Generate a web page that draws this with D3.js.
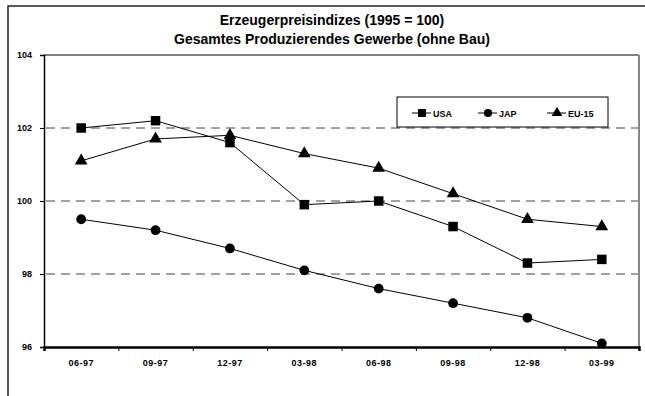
<!DOCTYPE html>
<html>
<head>
<meta charset="utf-8">
<title>Erzeugerpreisindizes</title>
<script src="https://d3js.org/d3.v7.min.js"></script>
<style>
  body { margin: 0; background: #fff; }
  text { font-family: "Liberation Sans", Arial, sans-serif; font-weight: bold; fill: #000; }
</style>
</head>
<body>
<div id="chart"></div>
<script>
// data
var periods = ["06-97", "09-97", "12-97", "03-98", "06-98", "09-98", "12-98", "03-99"];
var usa  = [102.0, 102.2, 101.6, 99.9, 100.0, 99.3, 98.3, 98.4];
var jap  = [99.5, 99.2, 98.7, 98.1, 97.6, 97.2, 96.8, 96.1];
var eu15 = [101.1, 101.7, 101.8, 101.3, 100.9, 100.2, 99.5, 99.3];
var seriesNames = ["USA", "JAP", "EU-15"];
var yTicks = [96, 98, 100, 102, 104];

var width = 645, height = 396;
var margin = {top: 55, right: 6, bottom: 49, left: 44};
var w = width - margin.left - margin.right,
    h = height - margin.top - margin.bottom;

var svg = d3.select("#chart").append("svg")
    .attr("width", width)
    .attr("height", height);

// outer frame (only top + left are visible)
svg.append("path")
    .attr("d", "M8,396V6H645")
    .attr("fill", "none")
    .attr("stroke", "#222")
    .attr("stroke-width", 1.5);

svg.append("text").attr("x", 332).attr("y", 25)
    .attr("text-anchor", "middle").style("font-size", "14px")
    .text("Erzeugerpreisindizes (1995 = 100)");
svg.append("text").attr("x", 332).attr("y", 44)
    .attr("text-anchor", "middle").style("font-size", "14px")
    .text("Gesamtes Produzierendes Gewerbe (ohne Bau)");

var g = svg.append("g")
    .attr("transform", "translate(" + margin.left + "," + margin.top + ")");

var x = d3.scaleBand().domain(periods).range([0, w]);
var y = d3.scaleLinear().domain([96, 104]).range([h, 0]);
var cx = function(d, i) { return x(periods[i]) + x.bandwidth() / 2; };

// dashed gridlines
g.selectAll(".grid")
    .data([98, 100, 102])
  .enter().append("line")
    .attr("x1", 2).attr("x2", w)
    .attr("y1", function(d) { return y(d); })
    .attr("y2", function(d) { return y(d); })
    .attr("stroke", "#444")
    .attr("stroke-dasharray", "9,6");

// plot border: top black, right gray
g.append("line").attr("x1", 0).attr("x2", w).attr("y1", 0).attr("y2", 0)
    .attr("stroke", "#000").attr("stroke-width", 1.2);
g.append("line").attr("x1", w).attr("x2", w).attr("y1", 0).attr("y2", h)
    .attr("stroke", "#888").attr("stroke-width", 2);

// axes
var yAxis = g.append("g")
    .call(d3.axisLeft(y).tickValues(yTicks).tickSize(4).tickPadding(8).tickFormat(d3.format("d")));
var xAxis = g.append("g")
    .attr("transform", "translate(0," + h + ")")
    .call(d3.axisBottom(d3.scaleLinear().domain([0, periods.length]).range([0, w]))
      .tickValues(d3.range(periods.length + 1)).tickSize(4).tickFormat(""));
yAxis.select(".domain").attr("stroke", "#000").attr("stroke-width", 1.5);
xAxis.select(".domain").attr("stroke", "#000").attr("stroke-width", 2.5);
yAxis.selectAll("text").style("font-size", "9px");

g.selectAll(".xlab")
    .data(periods)
  .enter().append("text")
    .attr("x", function(d) { return x(d) + x.bandwidth() / 2; })
    .attr("y", h + 19)
    .attr("text-anchor", "middle")
    .style("font-size", "9px")
    .style("letter-spacing", "0.5px")
    .text(function(d) { return d; });

var line = d3.line().x(cx).y(function(d) { return y(d); });
var shapes = [d3.symbolSquare, d3.symbolCircle, d3.symbolTriangle];
var sizes = [90, 75, 70];
[usa, jap, eu15].forEach(function(vals, k) {
  g.append("path")
      .datum(vals)
      .attr("d", line)
      .attr("fill", "none")
      .attr("stroke", "#000")
      .attr("stroke-width", 1);
  g.selectAll(".m" + k)
      .data(vals)
    .enter().append("path")
      .attr("transform", function(d, i) { return "translate(" + cx(d, i) + "," + y(d) + ")"; })
      .attr("d", d3.symbol().type(shapes[k]).size(sizes[k]));
});

// legend
var lg = svg.append("g").attr("transform", "translate(397,97)");
lg.append("rect").attr("width", 211).attr("height", 30)
    .attr("fill", "#fff").attr("stroke", "#000").attr("stroke-width", 1);
var lx = [15, 81, 150];
seriesNames.forEach(function(name, k) {
  var it = lg.append("g").attr("transform", "translate(" + lx[k] + ",16)");
  it.append("line").attr("x1", 0).attr("x2", 19).attr("stroke", "#000");
  it.append("path").attr("transform", "translate(10,0)")
    .attr("d", d3.symbol().type(shapes[k]).size(sizes[k] * 0.7));
  it.append("text").attr("x", 21).attr("y", 3.5).style("font-size", "9px").text(name);
});
</script>
</body>
</html>
